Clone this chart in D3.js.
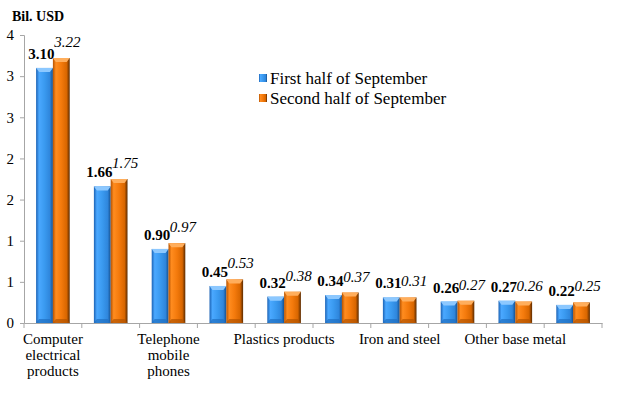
<!DOCTYPE html>
<html>
<head>
<meta charset="utf-8">
<script src="https://cdn.jsdelivr.net/npm/d3@7"></script>
<style>
  body { margin: 0; }
  #chart svg, #chart svg text, #chart svg tspan { font-family: 'Liberation Serif', 'Times New Roman', Tinos, serif !important; }
</style>
</head>
<body>
<div id="chart"></div>
<script>
// categories (only every other one carries a visible label)
const labels = [
  ['Computer', 'electrical', 'products'],
  [],
  ['Telephone', 'mobile', 'phones'],
  [],
  ['Plastics products'],
  [],
  ['Iron and steel'],
  [],
  ['Other base metal'],
  []
]
const firstHalf = [3.10, 1.66, 0.90, 0.45, 0.32, 0.34, 0.31, 0.26, 0.27, 0.22]
const secondHalf = [3.22, 1.75, 0.97, 0.53, 0.38, 0.37, 0.31, 0.27, 0.26, 0.25]
const seriesNames = ['First half of September', 'Second half of September']
const yTicks = [0, 0.5, 1, 1.5, 2, 2.5, 3, 3.5]

const width = 624
const height = 395
const margin = { top: 35, bottom: 72, left: 24, right: 22 }
const font = 'Liberation Serif'

const svg = d3.select('#chart')
  .append('svg')
  .attr('width', width)
  .attr('height', height)
  .attr('font-family', font)

const defs = svg.append('defs')

const palettes = [
  { id: 'gBlue', stops: ['#1c63b5', '#4aa8ff', '#3a9af0', '#2f86dc', '#15508f'], top: '#8cc8ff', bottom: '#1f6fc2' },
  { id: 'gOrange', stops: ['#b75300', '#ff8c1f', '#f47a0c', '#d86600', '#5a2a00'], top: '#ffae5c', bottom: '#b45400' }
]

palettes.forEach(p => {
  const g = defs.append('linearGradient').attr('id', p.id)
    .attr('x1', 0).attr('x2', 1).attr('y1', 0).attr('y2', 0)
  const offs = [0, 0.18, 0.5, 0.82, 1]
  p.stops.forEach((c, i) => g.append('stop').attr('offset', offs[i]).attr('stop-color', c))
})

const x = d3.scaleBand()
  .domain(d3.range(labels.length))
  .range([margin.left, width - margin.right])

const inner = d3.scaleBand()
  .domain([0, 1])
  .range([0, x.bandwidth()])
  .paddingOuter(0.72)
  .paddingInner(0)

const y = d3.scaleLinear()
  .domain([0, 3.5])
  .range([height - margin.bottom, margin.top])

// axes
const axisColor = '#a6a6a6'

const yAxis = svg.append('g')
  .attr('transform', `translate(${margin.left},0)`)
  .call(d3.axisLeft(y).tickValues(yTicks).tickFormat(d => Math.round(d)).tickSize(4).tickPadding(6))
  .attr('font-family', font)
  .attr('font-size', 15)
yAxis.selectAll('path, line').attr('stroke', axisColor)
yAxis.selectAll('text').attr('fill', '#000')

const xAxis = svg.append('g')
  .attr('transform', `translate(0,${y(0)})`)
  .call(d3.axisBottom(x).tickSize(0).tickFormat(''))
xAxis.select('path').attr('stroke', axisColor)

// category separators
svg.append('g')
  .selectAll('line')
  .data(d3.range(labels.length + 1))
  .join('line')
  .attr('x1', i => margin.left + i * x.step())
  .attr('x2', i => margin.left + i * x.step())
  .attr('y1', y(0))
  .attr('y2', y(0) + 5)
  .attr('stroke', axisColor)

// category labels
svg.append('g')
  .selectAll('text')
  .data(labels.map((l, i) => ({ l, i })))
  .join('text')
  .attr('font-family', font)
  .attr('text-anchor', 'middle')
  .attr('font-size', 15)
  .attr('fill', '#000')
  .each(function (d) {
    d3.select(this).selectAll('tspan')
      .data(d.l)
      .join('tspan')
      .attr('x', x(d.i) + x.bandwidth() / 2)
      .attr('y', (t, k) => y(0) + 21 + k * 16)
      .text(t => t)
  })

// bars
const series = [firstHalf, secondHalf]
const bw = inner.bandwidth()

series.forEach((vals, s) => {
  const p = palettes[s]
  const g = svg.append('g')
  const bar = g.selectAll('g')
    .data(vals.map((v, i) => ({ v, i })))
    .join('g')
    .attr('transform', d => `translate(${x(d.i) + inner(s)},0)`)

  bar.append('rect')
    .attr('x', 0)
    .attr('width', bw)
    .attr('y', d => y(d.v))
    .attr('height', d => y(0) - y(d.v))
    .attr('fill', `url(#${p.id})`)

  // top bevel
  bar.append('path')
    .attr('d', d => {
      const t = y(d.v)
      return `M0,${t} L${bw},${t} L${bw - 3},${t + 4} L3,${t + 4} Z`
    })
    .attr('fill', p.top)

  // bottom bevel
  bar.append('path')
    .attr('d', () => {
      const b = y(0)
      return `M0,${b} L${bw},${b} L${bw - 3},${b - 4} L3,${b - 4} Z`
    })
    .attr('fill', p.bottom)
    .attr('opacity', 0.7)

  // value labels
  g.selectAll('text')
    .data(vals.map((v, i) => ({ v, i })))
    .join('text')
    .attr('font-family', font)
    .attr('x', d => x(d.i) + inner(s) + bw / 2 + (s === 0 ? -3 : 6))
    .attr('y', d => y(d.v) - (s === 0 ? 9 : 11))
    .attr('text-anchor', 'middle')
    .attr('font-size', 15)
    .attr('font-weight', s === 0 ? 'bold' : 'normal')
    .attr('font-style', s === 0 ? 'normal' : 'italic')
    .attr('fill', '#000')
    .text(d => d.v.toFixed(2))
})

// unit label
svg.append('text')
  .attr('font-family', font)
  .attr('x', 12)
  .attr('y', 21)
  .attr('font-size', 14)
  .attr('font-weight', 'bold')
  .text('Bil. USD')

// legend
const legend = svg.append('g')
  .attr('transform', 'translate(259,80)')

seriesNames.forEach((name, i) => {
  const row = legend.append('g').attr('transform', `translate(0,${i * 20})`)
  row.append('rect')
    .attr('x', 0)
    .attr('y', -6)
    .attr('width', 8)
    .attr('height', 8)
    .attr('fill', `url(#${palettes[i].id})`)
  row.append('text')
    .attr('font-family', font)
    .attr('x', 11)
    .attr('y', 4)
    .attr('font-size', 17)
    .text(name)
})
</script>
</body>
</html>
